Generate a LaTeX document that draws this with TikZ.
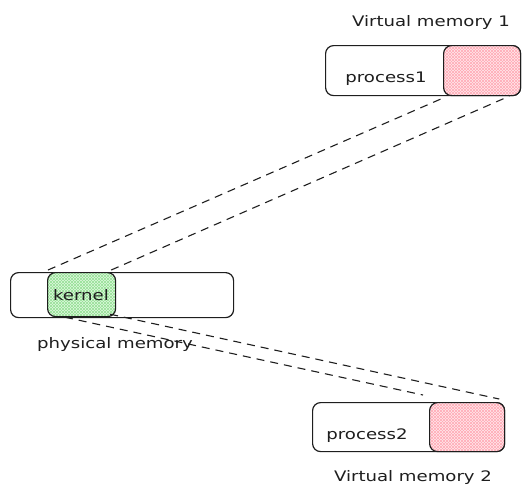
\documentclass[tikz,border=0pt]{standalone}
\usepackage{fontspec}
\newfontfamily\handfont[FakeStretch=1.25]{DejaVu Sans}
\usetikzlibrary{patterns}
\definecolor{pinkfill}{RGB}{255,232,235}
\definecolor{pinkhatch}{RGB}{255,170,182}
\definecolor{greenfill}{RGB}{222,248,222}
\definecolor{greenhatch}{RGB}{150,225,150}
\definecolor{ink}{RGB}{30,30,30}
\begin{document}
\begin{tikzpicture}[x=1pt,y=-1pt,
  membox/.style={draw=ink, line width=1.2pt, rounded corners=8pt, anchor=north west, inner sep=0pt, fill=white},
  redbox/.style={draw=ink, line width=1.2pt, rounded corners=8pt, anchor=north west, inner sep=0pt,
    preaction={fill=pinkfill}, preaction={pattern=north east lines, pattern color=pinkhatch},
    pattern=north west lines, pattern color=pinkhatch},
  greenbox/.style={draw=ink, line width=1.2pt, rounded corners=8pt, anchor=north west, inner sep=0pt,
    preaction={fill=greenfill}, preaction={pattern=north east lines, pattern color=greenhatch},
    pattern=north west lines, pattern color=greenhatch},
  lbl/.style={font=\handfont\fontsize{14.5}{16}\selectfont, text=ink, inner sep=0pt},
  link/.style={draw=ink, line width=1.1pt, dash pattern=on 8pt off 6pt}]
\useasboundingbox (0,0) rectangle (529,501);

% virtual memory 1
\node[membox, minimum width=195pt, minimum height=50pt] (vm1) at (325,45) {};
\node[redbox, minimum width=77pt, minimum height=50pt] (red1) at (443,45) {};
\node[lbl] (p1) at (386,79) {process1};
\node[lbl] (vm1lbl) at (431,22) {Virtual memory 1};

% physical memory
\node[membox, minimum width=223pt, minimum height=45pt] (phys) at (10,272) {};
\node[greenbox, minimum width=68pt, minimum height=44pt] (kernel) at (47,272) {};
\node[lbl] (klbl) at (81,295) {kernel};
\node[lbl] (physlbl) at (115,344) {physical memory};

% virtual memory 2
\node[membox, minimum width=192pt, minimum height=49pt] (vm2) at (312,402) {};
\node[redbox, minimum width=75pt, minimum height=49pt] (red2) at (429,402) {};
\node[lbl] (p2) at (367,436) {process2};
\node[lbl] (vm2lbl) at (413,477) {Virtual memory 2};

% mapping lines
\draw[link] ([shift={(1,-2)}]kernel.north west) -- ([shift={(2,1)}]red1.south west);
\draw[link] ([shift={(-5,-2)}]kernel.north east) -- ([shift={(-12,0)}]red1.south east);
\draw[link] ([shift={(-6,-3)}]kernel.south east) -- ([shift={(-6,-3)}]red2.north east);
\draw[link] ([shift={(18,0)}]kernel.south west) -- ([shift={(-6,-7)}]red2.north west);
\end{tikzpicture}
\end{document}
